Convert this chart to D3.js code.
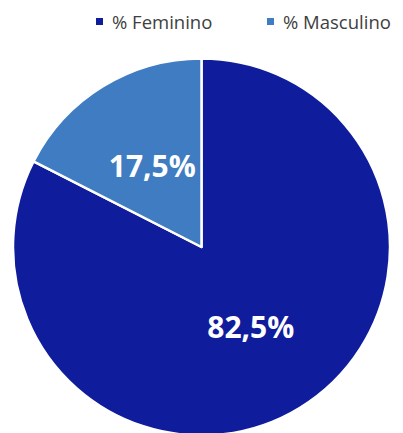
<!DOCTYPE html>
<html>
<head>
<meta charset="utf-8">
<script src="https://cdn.jsdelivr.net/npm/d3@7"></script>
<style>
  html, body { margin: 0; padding: 0; background: #fff; }
  svg { display: block; }
</style>
</head>
<body>
<svg id="chart" width="403" height="433"></svg>
<script>
const categories = ["% Feminino", "% Masculino"];
const values = [82.5, 17.5];
const labels = ["82,5%", "17,5%"];
const colors = ["#0F1C9C", "#3F7CC2"];

const W = 403, H = 433;
const cx = 201.5, cy = 247, R = 188.5;
const svg = d3.select("#chart");

const data = categories.map((c, i) => ({ cat: c, value: values[i], label: labels[i], color: colors[i] }));

const pie = d3.pie().value(d => d.value).sort(null);
const arc = d3.arc().innerRadius(0).outerRadius(R);
const labelArc = d3.arc().innerRadius(0).outerRadius(R);

const g = svg.append("g").attr("transform", `translate(${cx},${cy})`);
const arcs = pie(data);

g.selectAll("path.slice")
  .data(arcs)
  .join("path")
  .attr("class", "slice")
  .attr("d", arc)
  .attr("fill", d => d.data.color)
  .attr("stroke", "#ffffff")
  .attr("stroke-width", 2.5)
  .attr("stroke-linejoin", "round");

g.selectAll("text.lbl")
  .data(arcs)
  .join("text")
  .attr("class", "lbl")
  .attr("transform", d => {
    const [x, y] = labelArc.centroid(d);
    return `translate(${x},${y})`;
  })
  .attr("text-anchor", "middle")
  .attr("dy", "0.36em")
  .attr("fill", "#ffffff")
  .attr("font-family", "'Open Sans', 'DejaVu Sans', sans-serif")
  .attr("font-weight", "bold")
  .attr("font-size", 30)
  .text(d => d.data.label);

// Legend
const legendX = [96, 267];
const leg = svg.append("g");
const items = leg.selectAll("g.item")
  .data(data)
  .join("g")
  .attr("class", "item")
  .attr("transform", (d, i) => `translate(${legendX[i]},0)`);

items.append("rect")
  .attr("x", 0)
  .attr("y", 18)
  .attr("width", 7)
  .attr("height", 7)
  .attr("fill", d => d.color);

items.append("text")
  .attr("x", 16)
  .attr("y", 29)
  .attr("fill", "#404040")
  .attr("font-family", "'Open Sans', 'Liberation Sans', sans-serif")
  .attr("font-size", 18.5)
  .text(d => d.cat);
</script>
</body>
</html>
